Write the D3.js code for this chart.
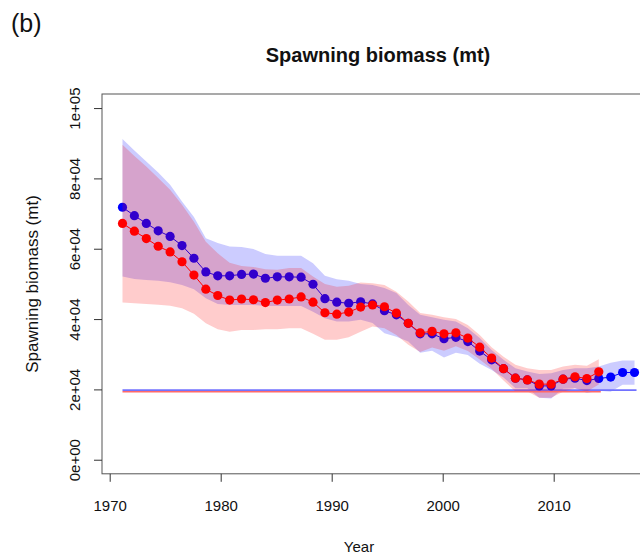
<!DOCTYPE html>
<html>
<head>
<meta charset="utf-8">
<script src="https://cdn.jsdelivr.net/npm/d3@7"></script>
<style>
  html, body { margin: 0; padding: 0; background: #fff; }
  svg { display: block; }
  text { font-family: "Liberation Sans", Arial, Helvetica, sans-serif; fill: #111; }
</style>
</head>
<body>
<svg id="chart" width="640" height="555"></svg>
<script>
// Spawning biomass estimates (mt) with interval bounds, two model runs.
const blueYears = d3.range(1971, 2015);
const blueEst = [71800, 69400, 67200, 65100, 63500, 60900, 57300, 53400, 52300, 52300,
  52700, 52800, 51600, 52000, 52000, 51900, 49900, 45800, 44800, 44500,
  44900, 44300, 42400, 41200, 38800, 35800, 35800, 34400, 34800, 33600,
  30900, 28400, 25900, 23200, 22700, 21000, 21000, 22900, 23200, 22500,
  23100, 23500, 24800, 24800];
const blueUpper = [91200, 87900, 84800, 81700, 78200, 73400, 69000, 63000, 61600, 60600,
  60500, 59900, 58500, 58000, 58000, 58000, 55900, 52300, 51300, 50900,
  50000, 49700, 48800, 47400, 44000, 41200, 40500, 39800, 39300, 37400,
  34600, 31200, 28400, 26000, 25100, 24400, 24600, 25500, 26000, 26000,
  26500, 27600, 28200, 28200];
const blueLower = [52100, 51400, 51100, 50900, 50500, 49700, 48500, 45900, 44300, 44000,
  44000, 44000, 43700, 43700, 43700, 43700, 42100, 40200, 39300, 39300,
  39800, 38900, 36000, 35000, 33600, 30400, 31000, 29100, 30400, 29800,
  27300, 25500, 23400, 20300, 20300, 17600, 17400, 20200, 20300, 19000,
  19600, 19300, 21300, 21300];

const redYears = d3.range(1971, 2012);
const redEst = [67200, 65000, 62900, 60700, 59100, 56300, 52500, 48500, 46700, 45400,
  45700, 45500, 44700, 45400, 45700, 46300, 44800, 41800, 41400, 42000,
  43400, 44000, 43500, 41700, 38800, 36100, 36500, 35800, 36100, 34600,
  32000, 28900, 25900, 23200, 22700, 21500, 21500, 22900, 23600, 23100,
  25000];
const redUpper = [89600, 86400, 83400, 80100, 76800, 72500, 67700, 62000, 58700, 56000,
  55100, 54800, 54200, 54000, 54500, 54500, 52100, 50000, 49200, 49500,
  50400, 50200, 49700, 47800, 45000, 41700, 41200, 40500, 40000, 38300,
  35500, 32000, 29300, 27000, 26000, 25500, 25500, 26500, 27000, 26700,
  28600];
const redLower = [44700, 44500, 44300, 44100, 43800, 43100, 41500, 38800, 37100, 36400,
  36900, 36900, 37100, 37100, 37400, 37400, 35800, 34100, 34100, 34800,
  36400, 37900, 37400, 35500, 32700, 30600, 31900, 31000, 32300, 30900,
  28500, 25900, 22500, 19400, 19400, 17600, 17600, 19300, 20300, 19400,
  21400];

// Reference levels
const blueRef = 19800;
const redRef = 19350;

const yTicks = [0, 20000, 40000, 60000, 80000, 100000];
const xTicks = [1970, 1980, 1990, 2000, 2010];

const svg = d3.select("#chart");
const plot = { left: 102, top: 94, right: 655, bottom: 473.8 };

// Data scale: year range padded by 4% on each side
const xSpan = 2014 - 1971;
const x = d3.scaleLinear()
  .domain([1971 - 0.04 * xSpan, 2014 + 0.04 * xSpan])
  .range([plot.left, plot.right]);
// Year axis tick positions
const xAxisScale = d3.scaleLinear().domain([1970, 2010]).range([109.7, 553.7]);
const y = d3.scaleLinear().domain([-4000, 104000]).range([plot.bottom, plot.top]);

svg.append("defs").append("clipPath").attr("id", "plotClip")
  .append("rect")
  .attr("x", plot.left).attr("y", plot.top)
  .attr("width", plot.right - plot.left).attr("height", plot.bottom - plot.top);

const g = svg.append("g").attr("clip-path", "url(#plotClip)");

function drawSeries(years, est, lo, hi, ref, col, lineCol) {
  const rows = years.map((yr, i) => ({ yr, est: est[i], lo: lo[i], hi: hi[i] }));
  const area = d3.area().x(d => x(d.yr)).y0(d => y(d.lo)).y1(d => y(d.hi));
  g.append("path").datum(rows).attr("d", area)
    .attr("fill", col).attr("fill-opacity", 0.2).attr("stroke", "none");
  g.append("line")
    .attr("x1", x(years[0])).attr("x2", x(years[years.length - 1]) + 2)
    .attr("y1", y(ref)).attr("y2", y(ref))
    .attr("stroke", lineCol).attr("stroke-width", 1.6);
  const line = d3.line().x(d => x(d.yr)).y(d => y(d.est));
  g.append("path").datum(rows).attr("d", line)
    .attr("fill", "none").attr("stroke", col).attr("stroke-width", 1);
  g.selectAll(null).data(rows).enter().append("circle")
    .attr("cx", d => x(d.yr)).attr("cy", d => y(d.est)).attr("r", 4.6)
    .attr("fill", col);
}

drawSeries(blueYears, blueEst, blueLower, blueUpper, blueRef, "#0000ff", "#7272ff");
drawSeries(redYears, redEst, redLower, redUpper, redRef, "#ff0000", "#ff6a6a");

// Plot frame
svg.append("rect")
  .attr("x", plot.left).attr("y", plot.top)
  .attr("width", plot.right - plot.left).attr("height", plot.bottom - plot.top)
  .attr("fill", "none").attr("stroke", "#555").attr("stroke-width", 1);

// Y axis with exponent labels
const expFmt = v => {
  const [m, e] = v.toExponential(0).split("e");
  const n = Math.abs(+e);
  return m + "e" + (+e < 0 ? "-" : "+") + (n < 10 ? "0" + n : n);
};
const yAxis = svg.append("g").attr("transform", `translate(${plot.left},0)`)
  .call(d3.axisLeft(y).tickValues(yTicks).tickFormat(expFmt).tickSize(8).tickSizeOuter(0));
yAxis.select(".domain").remove();
yAxis.selectAll(".tick line").attr("stroke", "#333");
yAxis.selectAll(".tick text")
  .attr("transform", "rotate(-90)")
  .attr("x", 0).attr("y", -22).attr("dy", null)
  .attr("text-anchor", "middle")
  .style("font-size", "15px");

// X axis
const xAxis = svg.append("g").attr("transform", `translate(0,${plot.bottom})`)
  .call(d3.axisBottom(xAxisScale).tickValues(xTicks).tickFormat(d3.format("d")).tickSize(8).tickSizeOuter(0));
xAxis.select(".domain").remove();
xAxis.selectAll(".tick line").attr("stroke", "#333");
xAxis.selectAll(".tick text")
  .attr("y", 37).attr("dy", null)
  .style("font-size", "15px");

// Titles
svg.append("text").attr("x", 378).attr("y", 62).attr("text-anchor", "middle")
  .style("font-size", "20px").style("font-weight", "bold")
  .text("Spawning biomass (mt)");
svg.append("text").attr("x", 359).attr("y", 552).attr("text-anchor", "middle")
  .style("font-size", "15px").text("Year");
svg.append("text").attr("transform", "translate(38,284) rotate(-90)")
  .attr("text-anchor", "middle").style("font-size", "17px")
  .text("Spawning biomass (mt)");
svg.append("text").attr("x", 11).attr("y", 32).style("font-size", "25px").text("(b)");
</script>
</body>
</html>
